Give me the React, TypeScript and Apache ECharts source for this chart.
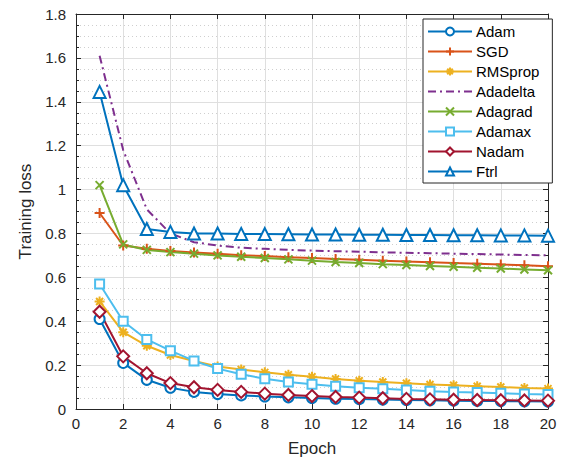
import React, { useEffect, useRef } from "react";
import * as echarts from "echarts";

const epochs = [1, 2, 3, 4, 5, 6, 7, 8, 9, 10, 11, 12, 13, 14, 15, 16, 17, 18, 19, 20];

const adam = [0.41, 0.21, 0.133, 0.097, 0.078, 0.068, 0.062, 0.057, 0.053, 0.05, 0.047, 0.045, 0.043, 0.041, 0.04, 0.038, 0.037, 0.036, 0.035, 0.034];
const sgd = [0.893, 0.745, 0.73, 0.72, 0.713, 0.707, 0.701, 0.697, 0.692, 0.688, 0.684, 0.68, 0.676, 0.672, 0.669, 0.665, 0.662, 0.658, 0.655, 0.651];
const rmsprop = [0.49, 0.35, 0.288, 0.246, 0.219, 0.194, 0.18, 0.167, 0.156, 0.147, 0.137, 0.129, 0.123, 0.117, 0.112, 0.108, 0.104, 0.1, 0.096, 0.093];
const adadelta = [1.61, 1.18, 0.91, 0.8, 0.76, 0.745, 0.735, 0.73, 0.725, 0.722, 0.719, 0.717, 0.714, 0.712, 0.71, 0.708, 0.706, 0.704, 0.702, 0.7];
const adagrad = [1.02, 0.75, 0.725, 0.715, 0.708, 0.7, 0.694, 0.688, 0.682, 0.676, 0.67, 0.665, 0.66, 0.656, 0.652, 0.648, 0.644, 0.64, 0.636, 0.632];
const adamax = [0.57, 0.4, 0.317, 0.266, 0.219, 0.184, 0.158, 0.138, 0.123, 0.113, 0.104, 0.097, 0.092, 0.087, 0.081, 0.077, 0.075, 0.072, 0.068, 0.066];
const nadam = [0.443, 0.24, 0.163, 0.118, 0.099, 0.087, 0.078, 0.07, 0.064, 0.059, 0.055, 0.052, 0.049, 0.046, 0.044, 0.042, 0.041, 0.04, 0.039, 0.038];
const ftrl = [1.445, 1.02, 0.82, 0.807, 0.8, 0.8, 0.798, 0.797, 0.796, 0.795, 0.795, 0.794, 0.794, 0.793, 0.793, 0.792, 0.792, 0.791, 0.791, 0.79];

const xTicks = { min: 0, max: 20, interval: 2 };
const yTicks = { min: 0, max: 1.8, interval: 0.2 };

const PLUS = "path://M5 0L5 10M0 5L10 5";
const CROSS = "path://M0 0L10 10M10 0L0 10";
const STAR = "path://M5 0L5 10M0 5L10 5M1.5 1.5L8.5 8.5M8.5 1.5L1.5 8.5";

const FONT = "'Liberation Sans', Arial, Helvetica, sans-serif";
const AXIS_COLOR = "#262626";

export default function App() {
  const ref = useRef<HTMLDivElement>(null);

  useEffect(() => {
    if (!ref.current) return;
    const chart = echarts.init(ref.current, undefined, { renderer: "svg" });

    const mk = (
      name: string,
      values: number[],
      color: string,
      symbol: string,
      symbolSize: number,
      dash?: number[]
    ) => ({
      name,
      type: "line",
      data: epochs.map((e, i) => [e, values[i]]),
      symbol,
      symbolSize,
      showSymbol: symbol !== "none",
      lineStyle: { color, width: 2, type: dash ? dash : "solid" },
      itemStyle: { color, borderColor: color, borderWidth: 2 },
      emphasis: { disabled: true },
      xAxisIndex: 0,
      yAxisIndex: 0,
    });

    const series = [
      mk("Adam", adam, "#0072BD", "emptyCircle", 10),
      mk("SGD", sgd, "#D95319", PLUS, 10),
      mk("RMSprop", rmsprop, "#EDB120", STAR, 10),
      mk("Adadelta", adadelta, "#7E2F8E", "none", 0, [8, 4, 2, 4]),
      mk("Adagrad", adagrad, "#77AC30", CROSS, 8),
      mk("Adamax", adamax, "#4DBEEE", "emptyRect", 9),
      mk("Nadam", nadam, "#A2142F", "emptyDiamond", 12),
      mk("Ftrl", ftrl, "#0072BD", "emptyTriangle", 12),
    ];

    const option: any = {
      animation: false,
      backgroundColor: "#ffffff",
      textStyle: { fontFamily: FONT },
      grid: { left: 76, right: 23, top: 14, bottom: 53, containLabel: false },
      legend: {
        orient: "vertical",
        left: 423,
        top: 19,
        padding: [5, 13, 4, 4],
        itemWidth: 44,
        itemHeight: 10,
        itemGap: 5,
        backgroundColor: "#ffffff",
        borderColor: AXIS_COLOR,
        borderWidth: 1,
        borderRadius: 0,
        textStyle: { fontFamily: FONT, fontSize: 15, color: "#000000", padding: [0, 0, 0, -1] },
        data: series.map((s) =>
          s.name === "Adadelta" ? { name: s.name, itemStyle: { opacity: 0 } } : s.name
        ),
      },
      xAxis: [
        {
          type: "value",
          ...xTicks,
          name: "Epoch",
          nameLocation: "middle",
          nameGap: 31,
          nameTextStyle: { fontSize: 17, color: AXIS_COLOR, fontFamily: FONT },
          axisLine: { show: true, onZero: false, lineStyle: { color: AXIS_COLOR, width: 1 } },
          axisTick: { show: true, inside: true, length: 5, lineStyle: { color: AXIS_COLOR } },
          axisLabel: { fontSize: 15, color: AXIS_COLOR, margin: 7, fontFamily: FONT },
          splitLine: { show: true, lineStyle: { color: "#dfdfdf", width: 1 } },
        },
        {
          type: "value",
          position: "top",
          ...xTicks,
          axisLine: { show: true, onZero: false, lineStyle: { color: AXIS_COLOR, width: 1 } },
          axisTick: { show: true, inside: true, length: 5, lineStyle: { color: AXIS_COLOR } },
          axisLabel: { show: false },
          splitLine: { show: false },
        },
      ],
      yAxis: [
        {
          type: "value",
          ...yTicks,
          name: "Training loss",
          nameLocation: "middle",
          nameGap: 42,
          nameTextStyle: { fontSize: 17, color: AXIS_COLOR, fontFamily: FONT },
          axisLine: { show: true, onZero: false, lineStyle: { color: AXIS_COLOR, width: 1 } },
          axisTick: { show: true, inside: true, length: 5, lineStyle: { color: AXIS_COLOR } },
          minorTick: { show: true, splitNumber: 4, length: 3, lineStyle: { color: AXIS_COLOR } },
          axisLabel: { fontSize: 15, color: AXIS_COLOR, margin: 10, fontFamily: FONT },
          splitLine: { show: true, lineStyle: { color: "#dfdfdf", width: 1 } },
          minorSplitLine: { show: true, lineStyle: { color: "#cfcfcf", width: 1, type: [1, 3] } },
        },
        {
          type: "value",
          position: "right",
          ...yTicks,
          axisLine: { show: true, onZero: false, lineStyle: { color: AXIS_COLOR, width: 1 } },
          axisTick: { show: true, inside: true, length: 5, lineStyle: { color: AXIS_COLOR } },
          minorTick: { show: true, splitNumber: 4, length: 3, lineStyle: { color: AXIS_COLOR } },
          axisLabel: { show: false },
          splitLine: { show: false },
        },
      ],
      series,
    };

    chart.setOption(option);
    return () => chart.dispose();
  }, []);

  return <div ref={ref} style={{ width: 571, height: 462, position: "absolute", left: 0, top: 0 }} />;
}
